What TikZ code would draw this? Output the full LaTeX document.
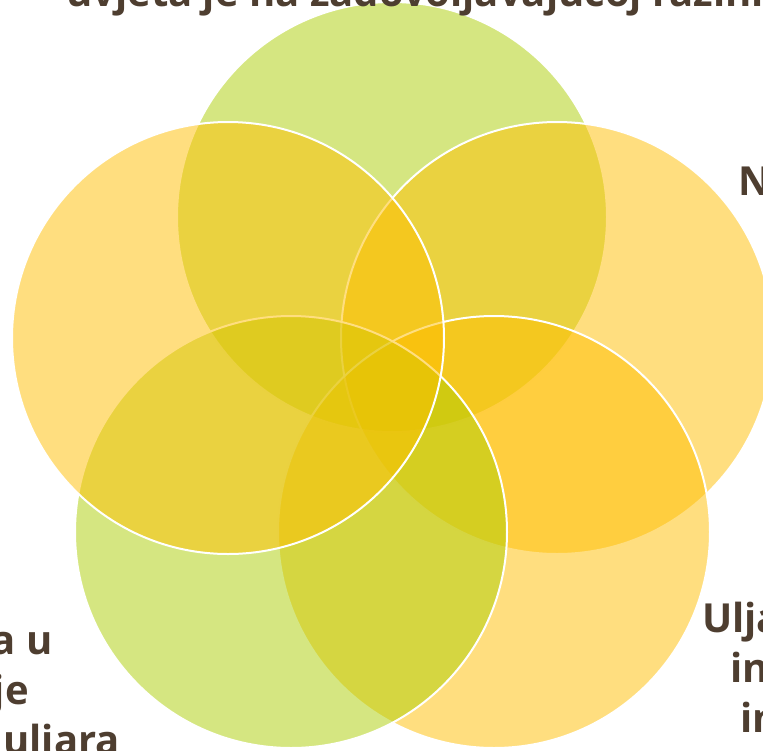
\documentclass[tikz,border=0pt]{standalone}
\usepackage{fontspec}
\setmainfont{Open Sans}
\begin{document}
\begin{tikzpicture}[x=1pt,y=-1pt]
\definecolor{limec}{RGB}{172,206,4}
\definecolor{goldc}{RGB}{255,190,0}
\definecolor{txtc}{RGB}{78,62,48}
\tikzset{
  petal/.style={draw=white, line width=2pt, fill opacity=0.5, draw opacity=1},
  lbl/.style={text=txtc, font=\fontsize{40}{50}\selectfont\bfseries, inner sep=0pt}
}
\path[use as bounding box] (0,0) rectangle (763,750);
\clip (0,0) rectangle (763,750);
% circles, drawn in stacking order
\draw[petal, fill=limec] (392,217) circle[radius=215pt];
\draw[petal, fill=goldc] (557,338) circle[radius=216pt];
\draw[petal, fill=goldc] (494,532) circle[radius=216pt];
\draw[petal, fill=limec] (291,532) circle[radius=216pt];
\draw[petal, fill=goldc] (228,338) circle[radius=216pt];
% labels (clipped at the picture's edges)
\node[lbl, anchor=base west] (ttop) at (66,6) {uvjeta je na zadovoljavajućoj razini};
\node[lbl, anchor=base west] (tright) at (738,195) {Nedovoljna};
\node[lbl, anchor=base west] (tbr1) at (702,632) {Uljara ima};
\node[lbl, anchor=base west] (tbr2) at (730,682) {informacije};
\node[lbl, anchor=base west] (tbr3) at (740,732) {inovacije};
\node[lbl, anchor=base east] (tbl1) at (53,654) {Ulaganja u};
\node[lbl, anchor=base east] (tbl2) at (29,704) {modernizacije};
\node[lbl, anchor=base east] (tbl3) at (120,754) {postojećih uljara};
\end{tikzpicture}
\end{document}
